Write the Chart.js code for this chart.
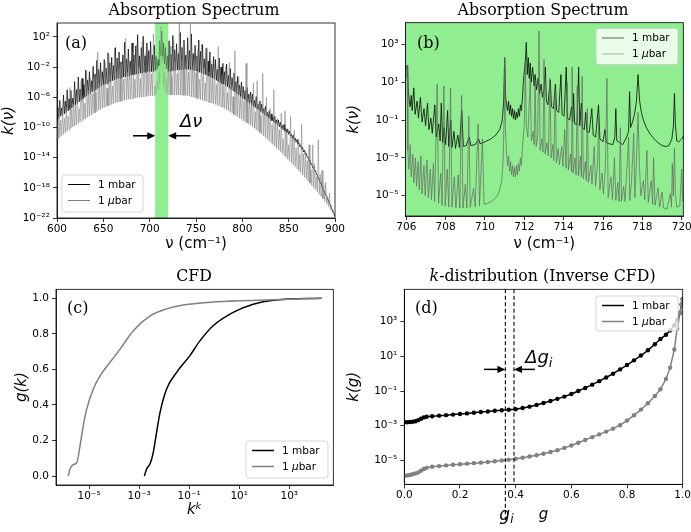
<!DOCTYPE html>
<html>
<head>
<meta charset="utf-8">
<script src="https://cdn.jsdelivr.net/npm/chart.js@4.4.1/dist/chart.umd.min.js"></script>
<style>
html,body{margin:0;padding:0;background:#fff}
body{width:691px;height:532px;position:relative;overflow:hidden}
canvas{position:absolute}
</style>
</head>
<body>
<canvas id="cA" width="345" height="266" style="left:0;top:0;width:345px;height:266px"></canvas>
<canvas id="cB" width="346" height="266" style="left:345px;top:0;width:346px;height:266px"></canvas>
<canvas id="cC" width="345" height="266" style="left:0;top:266px;width:345px;height:266px"></canvas>
<canvas id="cD" width="346" height="266" style="left:345px;top:266px;width:346px;height:266px"></canvas>
<script>
// ================= DATA =================
const seriesLabels = ['1 mbar', '1 μbar'];

// (a) full absorption spectrum: wavenumber (cm^-1) and log10 k
const spectrumNu = [
600,601,602,603,604,605,606,607,608,609,610,611,612,613,614,615,616,617,618,619,
620,621,622,623,624,625,626,627,628,629,630,631,632,633,634,635,636,637,638,639,
640,641,642,643,644,645,646,647,648,649,650,651,652,653,654,655,656,657,658,659,
660,661,662,663,664,665,666,667,668,669,670,671,672,673,674,675,676,677,678,679,
680,681,682,683,684,685,686,687,688,689,690,691,692,693,694,695,696,697,698,699,
700,701,702,703,704,705,706,707,708,709,710,711,712,713,714,715,716,717,718,719,
720,721,722,723,724,725,726,727,728,729,730,731,732,733,734,735,736,737,738,739,
740,741,742,743,744,745,746,747,748,749,750,751,752,753,754,755,756,757,758,759,
760,761,762,763,764,765,766,767,768,769,770,771,772,773,774,775,776,777,778,779,
780,781,782,783,784,785,786,787,788,789,790,791,792,793,794,795,796,797,798,799,
800,801,802,803,804,805,806,807,808,809,810,811,812,813,814,815,816,817,818,819,
820,821,822,823,824,825,826,827,828,829,830,831,832,833,834,835,836,837,838,839,
840,841,842,843,844,845,846,847,848,849,850,851,852,853,854,855,856,857,858,859,
860,861,862,863,864,865,866,867,868,869,870,871,872,873,874,875,876,877,878,879,
880,881,882,883,884,885,886,887,888,889,890,891,892,893,894,895,896,897,898,899,900];
const spectrumMbarLogK = [
-8.9,-7.4,-8.7,-6.4,-8.5,-7.4,-8.4,-5.7,-8.2,-6.5,
-8.0,-5.0,-7.8,-6.2,-7.6,-5.1,-7.4,-6.1,-7.2,-3.9,
-7.0,-5.0,-6.8,-3.3,-6.6,-4.9,-6.4,-3.5,-6.2,-4.3,
-6.0,-2.4,-5.8,-3.7,-5.6,-2.6,-5.5,-3.8,-5.3,-1.9,
-5.1,-2.9,-5.0,-1.1,-4.8,-2.3,-4.7,-1.4,-4.5,-2.6,
-4.4,-1.0,-4.3,-2.1,-4.2,-0.1,-4.0,-1.4,-3.9,-0.7,
-3.8,-1.8,-3.7,0.6,-3.6,-0.8,-3.5,0.0,-3.5,-1.3,
-3.4,-0.4,-3.3,1.3,-3.3,-0.9,-3.2,0.4,-3.2,-1.2,
-3.1,1.2,-3.0,-0.4,-3.0,0.8,-2.9,2.3,-2.9,-0.5,
-2.8,0.6,-2.8,2.1,-2.7,-0.5,-2.7,1.2,-2.6,0.2,
-2.6,1.4,-2.6,-0.4,-2.6,0.9,-2.5,-0.6,-2.3,-1.0,
-1.8,1.5,-0.5,2.8,-0.8,1.2,-1.6,0.6,-2.2,-0.5,
-2.6,1.5,-2.55,-0.3,-2.5,2.2,-2.45,0.3,-2.4,1.1,
-2.4,-0.2,-2.35,2.6,-2.35,0.6,-2.3,1.6,-2.3,-0.4,
-2.3,1.9,-2.3,0.2,-2.35,2.4,-2.4,-0.2,-2.45,0.9,
-2.5,-0.5,-2.6,1.6,-2.7,0.1,-2.8,1.0,-2.9,-0.9,
-3.0,0.5,-3.1,-1.2,-3.2,0.0,-3.35,-1.6,-3.5,-0.6,
-3.6,-1.0,-3.75,-2.3,-3.9,-0.8,-4.0,-2.0,-4.2,-1.5,
-4.3,-2.6,-4.45,-1.6,-4.6,-3.1,-4.8,-2.2,-4.95,-3.4,
-5.1,-2.8,-5.3,-3.9,-5.5,-3.2,-5.7,-4.4,-5.9,-4.0,
-6.1,-4.6,-6.3,-5.1,-6.45,-4.7,-6.65,-5.6,-6.8,-5.3,
-7.0,-5.6,-7.2,-6.4,-7.35,-5.9,-7.55,-6.9,-7.7,-6.5,
-7.9,-6.9,-8.1,-7.5,-8.3,-7.2,-8.5,-8.0,-8.7,-7.8,
-8.9,-8.2,-9.1,-8.6,-9.3,-8.5,-9.5,-9.0,-9.7,-9.0,
-9.9,-9.3,-10.1,-9.7,-10.3,-9.6,-10.5,-10.1,-10.7,-10.2,
-10.9,-10.5,-11.15,-10.9,-11.4,-11.0,-11.7,-11.4,-11.95,-11.6,
-12.2,-12.0,-12.55,-12.3,-12.9,-12.6,-13.25,-13.0,-13.6,-13.4,
-14.0,-13.9,-14.45,-14.3,-14.9,-14.8,-15.35,-15.2,-15.8,-15.7,
-16.3,-16.3,-16.85,-16.8,-17.4,-17.3,-17.9,-17.9,-18.45,-18.5,
-19.0,-19.1,-19.55,-19.6,-20.1,-20.2,-20.7,-20.8,-21.25,-21.4,-21.8];
const spectrumUbarLogK = [
-10.0,-11.5,-7.2,-11.3,-9.0,-11.1,-7.5,-10.9,-8.8,-10.7,
-7.3,-10.5,-8.5,-10.3,-4.7,-10.1,-7.5,-9.9,-6.9,-9.8,
-7.1,-9.65,-4.8,-9.45,-7.5,-9.3,-3.8,-9.1,-5.9,-8.95,
-6.8,-8.85,-2.5,-8.65,-5.1,-8.5,-3.5,-8.35,-5.5,-8.15,
-3.4,-8.05,-5.3,-7.9,0.0,-7.75,-4.2,-7.6,-3.3,-7.45,
-4.2,-7.35,-1.3,-7.25,-4.8,-7.15,-0.3,-7.05,-3.0,-6.95,
-4.5,-6.85,0.5,-6.75,-2.7,-6.65,-1.0,-6.6,-3.4,-6.55,
-1.6,-6.45,-3.6,-6.4,1.8,-6.35,-2.7,-6.3,-1.8,-6.25,
-2.9,-6.2,0.0,-6.15,-3.6,-6.1,0.9,-6.05,-2.0,-6.0,
-3.5,-6.0,1.4,-5.95,-1.8,-5.9,-0.1,-5.85,-2.5,-5.8,
-0.9,-5.8,-2.9,-5.8,2.4,-5.8,-4.5,-5.6,-3.8,-5.0,
-2.5,-4.2,3.4,-1.5,-0.5,-4.5,-2.8,-5.2,-3.5,-5.6,
-2.2,-5.7,0.8,-5.7,-3.1,-5.7,1.7,-5.7,-1.3,-5.7,
-2.9,-5.7,3.8,-5.7,-1.1,-5.75,0.7,-5.75,-2.1,-5.8,
-0.3,-5.8,-2.6,-5.85,3.7,-5.95,-1.8,-6.0,-0.9,-6.05,
-2.7,-6.15,0.3,-6.25,-3.6,-6.3,1.0,-6.4,-2.1,-6.45,
-4.1,-6.55,0.6,-6.65,-2.6,-6.7,-1.1,-6.8,-3.6,-6.85,
-2.2,-6.95,-4.3,-7.05,0.7,-7.15,-3.7,-7.25,-3.0,-7.35,
-4.4,-7.5,-1.9,-7.65,-5.4,-7.8,-1.4,-7.95,-4.3,-8.1,
-5.9,-8.3,0.2,-8.45,-4.7,-8.6,-3.4,-8.75,-5.9,-8.9,
-4.5,-9.1,-6.5,-9.25,-1.5,-9.4,-6.1,-9.55,-5.5,-9.7,
-6.7,-9.9,-4.1,-10.1,-7.9,-10.3,-3.8,-10.5,-6.7,-10.7,
-8.5,-10.9,-2.8,-11.15,-7.4,-11.35,-6.0,-11.55,-8.6,-11.8,
-7.5,-12.0,-9.6,-12.25,-5.0,-12.5,-9.3,-12.75,-8.8,-12.95,
-10.3,-13.2,-8.1,-13.45,-11.5,-13.7,-7.8,-13.95,-10.6,-14.2,
-12.3,-14.45,-8.5,-14.7,-11.4,-14.95,-10.3,-15.2,-12.7,-15.45,
-11.6,-15.75,-13.6,-16.0,-9.6,-16.3,-13.5,-16.6,-13.1,-16.85,
-14.4,-17.15,-12.3,-17.4,-15.6,-17.7,-12.3,-18.0,-14.8,-18.25,
-16.5,-18.55,-11.6,-18.85,-16.2,-19.15,-15.7,-19.45,-17.6,-19.75,
-17.3,-20.1,-19.2,-20.5,-18.7,-20.9,-20.3,-21.3,-21.0,-21.65,-21.8];

// (b) zoom 706-720 cm^-1
const zoomMbarNu = [706.00,706.05,706.10,706.15,706.20,706.25,706.30,706.38,706.45,706.55,706.62,706.72,706.80,706.90,706.98,
707.08,707.15,707.25,707.32,707.45,707.52,707.65,707.72,707.78,707.85,707.92,708.00,708.10,708.16,708.26,708.32,708.42,708.50,
708.62,708.70,708.82,708.90,709.05,709.20,709.28,709.50,709.68,709.75,710.00,710.30,710.55,710.75,710.88,710.95,711.00,711.05,
711.10,711.15,711.20,711.25,711.30,711.35,711.40,711.45,711.50,711.55,711.60,711.65,711.70,711.75,711.80,711.85,711.90,711.95,
712.00,712.05,712.10,712.15,712.20,712.25,712.30,712.35,712.42,712.50,712.55,712.62,712.70,712.78,712.85,712.92,713.00,713.07,
713.12,713.20,713.32,713.38,713.48,713.58,713.64,713.75,713.86,713.92,714.02,714.13,714.19,714.30,714.40,714.46,714.50,714.56,
714.68,714.76,714.82,714.90,714.96,715.05,715.12,715.18,715.30,715.43,715.50,715.62,715.77,715.84,716.00,716.10,716.16,716.30,
716.50,716.60,716.65,716.70,716.85,717.00,717.10,717.20,717.30,717.35,717.40,717.50,717.60,717.70,717.78,717.86,717.95,718.05,
718.20,718.40,718.60,718.80,719.00,719.20,719.35,719.50,719.58,719.63,719.68,719.75,719.85,720.00,720.10];
const zoomMbarLogK = [1.7,1.9,0.6,0.0,-0.3,0.3,-0.5,0.7,-0.7,0.0,-0.9,0.2,-1.1,-0.4,-1.3,
-0.1,-1.5,-0.9,-1.7,-0.2,-1.9,-1.2,-2.1,-0.1,-2.2,-1.4,-2.3,-0.5,-2.4,-1.0,-2.45,-1.6,-2.5,
-1.8,-2.45,-0.5,-2.4,-2.35,-1.9,-2.35,-2.3,-2.0,-2.25,-2.15,-2.0,-1.8,-1.5,-1.0,0.0,2.3,0.2,
-0.2,-0.5,0.0,-0.7,-0.2,-0.8,-0.4,-0.95,-0.5,-1.0,-0.6,-0.9,-0.4,-0.8,-0.2,-0.5,0.1,1.0,
1.6,2.1,3.1,1.4,2.3,1.2,2.0,1.0,1.8,0.8,1.4,0.6,1.2,0.4,0.9,0.2,0.6,1.8,
0.0,-0.2,1.1,-0.3,-0.4,0.9,-0.5,-0.6,1.4,-0.7,-0.8,1.8,-0.9,-1.0,-0.3,-1.1,0.4,-1.2,
-1.25,1.8,-1.3,-0.1,-1.4,-1.5,-0.6,-1.6,-1.65,-0.4,-1.8,-1.9,-0.2,-2.0,-2.15,-1.5,-2.2,-2.25,
-2.3,-1.9,-0.4,-2.1,-2.2,-2.3,-2.1,-1.9,-1.6,0.5,-1.4,-1.1,-0.7,0.0,1.4,0.0,-0.6,-1.0,
-1.4,-1.75,-2.0,-2.2,-2.35,-2.4,-2.35,-2.0,-1.3,0.4,-1.3,-2.1,-2.15,-2.0,-1.8];
const zoomUbarNu = [706.00,706.04,706.08,706.13,706.20,706.25,706.33,706.38,706.46,706.52,706.60,706.66,706.74,706.80,706.90,706.96,
707.05,707.12,707.22,707.28,707.38,707.44,707.57,707.64,707.75,707.82,707.91,707.98,708.08,708.16,708.25,708.32,708.44,708.52,
708.64,708.72,708.81,708.88,709.00,709.08,709.18,709.25,709.42,709.50,709.65,709.72,709.87,709.95,710.15,710.40,710.60,710.75,
710.85,710.92,710.97,711.00,711.04,711.10,711.15,711.20,711.25,711.30,711.35,711.40,711.45,711.50,711.55,711.60,711.65,711.70,
711.75,711.80,711.85,711.90,711.95,712.00,712.05,712.10,712.18,712.30,712.36,712.45,712.50,712.55,712.60,712.68,712.75,712.80,
712.90,712.95,713.00,713.06,713.15,713.22,713.30,713.36,713.45,713.50,713.57,713.63,713.72,713.78,713.90,713.96,714.05,714.12,
714.18,714.24,714.35,714.40,714.43,714.48,714.58,714.63,714.69,714.75,714.85,714.90,714.94,715.00,715.10,715.15,715.20,715.26,
715.38,715.44,715.55,715.62,715.72,715.78,715.84,715.95,716.02,716.12,716.20,716.26,716.40,716.48,716.58,716.65,716.75,716.82,
716.88,716.94,717.05,717.12,717.30,717.36,717.45,717.56,717.62,717.70,717.78,717.85,717.92,718.05,718.12,718.23,718.30,718.45,
718.52,718.57,718.64,718.80,718.88,719.00,719.08,719.25,719.42,719.48,719.52,719.57,719.63,719.68,719.75,719.90,720.00,720.05,720.10];
const zoomUbarLogK = [1.2,1.9,-2.6,-3.6,-2.3,-4.0,-2.8,-4.3,-3.0,-4.5,-3.2,-4.7,-2.9,-4.9,-3.4,-5.0,
-3.1,-5.1,-3.6,-5.2,-3.3,-5.3,0.9,-5.4,-3.8,-5.5,0.8,-5.55,-3.6,-5.6,0.7,-5.6,-4.0,-5.65,
-3.9,-5.65,0.3,-5.65,-4.4,-5.65,-0.8,-5.6,-4.6,-5.6,-1.2,-5.55,-2.0,-5.45,-5.4,-5.25,-5.05,-4.7,
-4.2,-3.2,-1.0,2.3,-1.5,-2.9,-3.4,-2.9,-3.7,-3.2,-3.9,-3.4,-4.0,-3.5,-4.0,-3.4,-3.9,-3.3,
-3.7,-3.0,-3.4,-2.6,-1.8,-1.2,2.0,-1.3,-1.9,1.2,-2.1,-1.6,-2.3,1.1,-2.4,-1.8,3.7,-2.6,
-2.0,-2.7,2.2,-2.8,-2.2,-2.9,1.2,-3.0,-2.3,-3.15,0.6,-3.25,-2.5,-3.35,-2.4,-3.45,-1.5,-3.55,
1.0,-3.65,-2.8,-3.75,1.8,-3.8,-3.0,-3.9,0.8,-3.95,-2.9,-4.0,1.3,-4.1,-3.2,-4.2,-0.4,-4.3,
-3.4,-4.4,-2.4,-4.5,-3.3,-0.9,-4.7,-3.8,-4.9,-3.5,1.2,-5.1,-4.0,-5.2,-3.0,-5.25,-4.3,-5.3,
-1.4,-5.3,-4.5,-5.3,-1.9,-5.25,-4.2,-1.7,-5.1,-3.2,-0.6,-3.4,-5.0,-4.2,-5.2,-2.6,-5.35,-4.2,
-5.45,-3.0,-5.5,-4.6,-5.6,-4.8,-5.65,-5.7,-4.9,-5.6,-3.3,-5.0,-2.5,-5.0,-5.6,-5.55,-3.6,-5.3,-5.2];

// (c) cumulative distribution g(k): log10 k and g
const cfdMbarLogK = [-2.79,-2.70,-2.56,-2.43,-2.30,-2.16,-1.90,-1.50,-0.97,-0.57,-0.04,0.76,1.56,2.49,4.29];
const cfdMbarG    = [0,0.04,0.07,0.135,0.247,0.36,0.49,0.583,0.677,0.76,0.845,0.92,0.966,0.99,1.0];
const cfdUbarLogK = [-5.83,-5.76,-5.64,-5.49,-5.36,-5.23,-5.09,-4.83,-4.56,-4.16,-3.76,-3.23,-2.56,-1.9,-1.24,0.1,2.1,4.29];
const cfdUbarG    = [0,0.04,0.064,0.075,0.17,0.284,0.378,0.49,0.564,0.64,0.714,0.817,0.90,0.94,0.962,0.98,0.99,1.0];

// (d) k-distribution k(g): g and log10 k
const kdistG = [0,0.01,0.02,0.03,0.04,0.05,0.06,0.07,0.08,0.1,0.125,0.15,0.175,0.2,0.225,0.25,0.275,0.3,0.325,0.35,
0.375,0.4,0.425,0.45,0.475,0.5,0.525,0.55,0.575,0.6,0.625,0.65,0.675,0.7,0.725,0.75,0.775,0.8,0.825,0.85,
0.875,0.9,0.92,0.94,0.955,0.97,0.98,0.99,0.996,1.0];
const kdistMbarLogK = [-2.80,-2.80,-2.79,-2.77,-2.74,-2.68,-2.60,-2.52,-2.48,-2.45,-2.42,-2.39,-2.36,-2.32,-2.29,-2.25,-2.21,-2.18,-2.14,-2.11,
-2.08,-2.05,-1.98,-1.90,-1.80,-1.69,-1.57,-1.45,-1.32,-1.17,-1.00,-0.82,-0.63,-0.43,-0.22,0.00,0.25,0.50,0.77,1.05,
1.35,1.70,2.00,2.25,2.50,2.80,3.10,3.50,4.00,4.30];
const kdistUbarLogK = [-5.88,-5.87,-5.84,-5.80,-5.75,-5.70,-5.60,-5.50,-5.43,-5.37,-5.33,-5.29,-5.25,-5.22,-5.19,-5.16,-5.13,-5.09,-5.05,-5.01,
-4.96,-4.91,-4.85,-4.78,-4.70,-4.62,-4.52,-4.41,-4.28,-4.14,-3.98,-3.82,-3.66,-3.50,-3.34,-3.17,-2.97,-2.70,-2.40,-2.07,
-1.70,-1.29,-0.90,-0.30,0.35,1.40,2.60,3.50,4.00,4.30];

// tick values
const spectrumNuTicks = [600,650,700,750,800,850,900];
const spectrumKTickExp = [2,-2,-6,-10,-14,-18,-22];
const zoomNuTicks = [706,708,710,712,714,716,718,720];
const zoomKTickExp = [3,1,-1,-3,-5];
const cfdKTickExp = [-5,-3,-1,1,3];
const cfdGTicks = [0,0.2,0.4,0.6,0.8,1.0];
const kdistGTicks = [0,0.2,0.4,0.6,0.8,1.0];
const kdistKTickExp = [3,1,-1,-3,-5];

// annotation anchors (data coordinates)
const bandNu = [706, 720];
const giMarks = [0.363, 0.394];

// ================= HELPERS =================
const pow10 = e => Math.pow(10, e);
const ptsLogY = (xs, ls) => xs.map((x, i) => ({x: x, y: pow10(ls[i])}));
const ptsLogX = (ls, ys) => ls.map((l, i) => ({x: pow10(l), y: ys[i]}));
const SUP = {'0':'⁰','1':'¹','2':'²','3':'³','4':'⁴','5':'⁵','6':'⁶','7':'⁷','8':'⁸','9':'⁹','-':'⁻'};
const logLabel = v => '10' + String(Math.round(Math.log10(v))).split('').map(c => SUP[c]).join('');
const fixed1 = v => Number(v).toFixed(1);
const TICK_FONT = {family: 'DejaVu Sans', size: 10.5};
const SERIF = '"DejaVu Serif"';
const SANS = '"DejaVu Sans"';

function scale(o) {
  const vertical = o.axis === 'y';
  return {
    type: o.type, position: vertical ? 'left' : 'bottom',
    min: o.min, max: o.max, bounds: 'data',
    afterDataLimits: s => { s.min = o.min; s.max = o.max; },
    afterBuildTicks: s => { s.ticks = o.ticks.map(v => ({value: v})); },
    afterFit: s => {
      if (vertical) { s.width = o.size; s.paddingTop = 0; s.paddingBottom = 0; }
      else { s.height = o.size; s.paddingLeft = 0; s.paddingRight = 0; }
    },
    ticks: {autoSkip: false, maxRotation: 0, minRotation: 0, padding: vertical ? 3 : 1,
            color: '#000', font: TICK_FONT, callback: o.label},
    grid: {display: true, drawOnChartArea: false, drawTicks: true, tickLength: 4,
           tickWidth: 0.8, tickColor: '#000', color: '#000', lineWidth: 0.8},
    border: {display: true, color: '#000', width: 0.8},
    title: {display: true, text: o.title, color: '#000',
            font: {family: 'DejaVu Sans', size: 15, style: o.titleStyle || 'normal'},
            padding: o.titlePad}
  };
}

let titleSize = null;
function getTitleSize(ctx) {
  if (!titleSize) {
    ctx.save(); ctx.font = '100px ' + SERIF;
    titleSize = 100 * 171 / ctx.measureText('Absorption Spectrum').width;
    ctx.restore();
  }
  return titleSize;
}

function drawRuns(ctx, runs, x, y, align) {
  let total = 0;
  runs.forEach(r => { ctx.font = r.font; r.w = ctx.measureText(r.t).width; total += r.w; });
  let cx = align === 'center' ? x - total / 2 : (align === 'right' ? x - total : x);
  ctx.textAlign = 'left';
  runs.forEach(r => { ctx.font = r.font; ctx.fillText(r.t, cx, y + (r.dy || 0)); cx += r.w; });
}

function roundRectPath(ctx, x, y, w, h, r) {
  ctx.beginPath();
  ctx.moveTo(x + r, y); ctx.lineTo(x + w - r, y); ctx.quadraticCurveTo(x + w, y, x + w, y + r);
  ctx.lineTo(x + w, y + h - r); ctx.quadraticCurveTo(x + w, y + h, x + w - r, y + h);
  ctx.lineTo(x + r, y + h); ctx.quadraticCurveTo(x, y + h, x, y + h - r);
  ctx.lineTo(x, y + r); ctx.quadraticCurveTo(x, y, x + r, y); ctx.closePath();
}

function labelRuns(label, size) {
  const parts = label.split('μ');
  if (parts.length === 1) return [{t: label, font: size + 'px ' + SANS}];
  return [{t: parts[0], font: size + 'px ' + SANS}, {t: 'μ', font: 'italic ' + size + 'px ' + SANS},
          {t: parts[1], font: size + 'px ' + SANS}];
}

function drawLegend(ctx, box, items) {
  ctx.save();
  roundRectPath(ctx, box.x, box.y, box.w, box.h, 3);
  ctx.fillStyle = 'rgba(255,255,255,0.8)'; ctx.fill();
  ctx.strokeStyle = 'rgba(204,204,204,0.8)'; ctx.lineWidth = 1; ctx.stroke();
  items.forEach((it, i) => {
    const cy = box.y + 9.5 + 16 * i;
    ctx.strokeStyle = it.color; ctx.lineWidth = it.width;
    ctx.beginPath(); ctx.moveTo(box.x + 6, cy); ctx.lineTo(box.x + 28, cy); ctx.stroke();
    ctx.fillStyle = '#000'; ctx.textBaseline = 'middle';
    drawRuns(ctx, labelRuns(it.label, 10.5), box.x + 36, cy + 0.5, 'left');
  });
  ctx.restore();
}

function arrowH(ctx, xFrom, xTo, y) {
  const dir = xTo > xFrom ? 1 : -1;
  ctx.beginPath(); ctx.moveTo(xFrom, y); ctx.lineTo(xTo - dir * 6, y); ctx.stroke();
  ctx.beginPath(); ctx.moveTo(xTo, y); ctx.lineTo(xTo - dir * 8, y - 3.6); ctx.lineTo(xTo - dir * 8, y + 3.6);
  ctx.closePath(); ctx.fill();
}

function decoPlugin(o) {
  return {
    id: 'deco' + o.key,
    beforeDatasetsDraw(chart) {
      if (o.under) { chart.ctx.save(); o.under(chart); chart.ctx.restore(); }
    },
    afterDatasetsDraw(chart) {
      if (o.over) { chart.ctx.save(); o.over(chart); chart.ctx.restore(); }
    },
    afterDraw(chart) {
      const {ctx, chartArea: a} = chart;
      ctx.save();
      ctx.strokeStyle = '#000'; ctx.lineWidth = 0.8;
      ctx.strokeRect(a.left, a.top, a.right - a.left, a.bottom - a.top);
      ctx.fillStyle = '#000'; ctx.textBaseline = 'alphabetic';
      const ts = getTitleSize(ctx);
      drawRuns(ctx, o.title.map(r => ({t: r.t, font: (r.italic ? 'italic ' : '') + ts.toFixed(2) + 'px ' + SERIF})),
               o.titleX, 14.5, 'center');
      ctx.font = '16px ' + SERIF; ctx.textAlign = 'left';
      ctx.fillText(o.panel, o.panelX, o.panelY);
      if (o.extra) o.extra(chart);
      ctx.restore();
      if (o.legend) drawLegend(ctx, o.legend.box, o.legend.items);
    }
  };
}

function baseOptions(pad, xs, ys) {
  return {
    responsive: false, animation: false, events: [],
    layout: {padding: pad},
    plugins: {legend: {display: false}, tooltip: {enabled: false}, title: {display: false}},
    scales: {x: xs, y: ys},
    elements: {line: {tension: 0}, point: {radius: 0}}
  };
}

// ================= (a) =================
new Chart(document.getElementById('cA'), {
  type: 'line',
  data: {datasets: [
    {label: seriesLabels[0], data: ptsLogY(spectrumNu, spectrumMbarLogK), borderColor: '#000', borderWidth: 0.7, pointRadius: 0, order: 2},
    {label: seriesLabels[1], data: ptsLogY(spectrumNu, spectrumUbarLogK), borderColor: 'rgba(128,128,128,0.8)', borderWidth: 0.7, pointRadius: 0, order: 1}
  ]},
  options: baseOptions({top: 23, right: 10, left: 0, bottom: 0},
    scale({axis: 'x', type: 'linear', min: 600, max: 900, ticks: spectrumNuTicks, label: v => String(v),
           title: 'ν (cm⁻¹)', titlePad: {top: 0, bottom: 13}, size: 48}),
    scale({axis: 'y', type: 'logarithmic', min: pow10(-22), max: pow10(3.85), ticks: spectrumKTickExp.map(pow10), label: logLabel,
           title: 'k(ν)', titleStyle: 'italic', titlePad: {top: 0, bottom: 0}, size: 57})),
  plugins: [decoPlugin({
    key: 'A', title: [{t: 'Absorption Spectrum'}], titleX: 194, panel: '(a)', panelX: 65, panelY: 47.5,
    under(chart) {
      const {ctx, chartArea: a, scales: {x}} = chart;
      const x1 = x.getPixelForValue(bandNu[0]), x2 = x.getPixelForValue(bandNu[1]);
      ctx.fillStyle = '#90ee90'; ctx.fillRect(x1, a.top, x2 - x1, a.bottom - a.top);
    },
    over(chart) {
      const {ctx, chartArea: a, scales: {x, y}} = chart;
      const x1 = x.getPixelForValue(bandNu[0]), x2 = x.getPixelForValue(bandNu[1]);
      ctx.fillStyle = 'rgba(144,238,144,0.45)';
      ctx.fillRect(x1, a.top, x2 - x1, a.bottom - a.top);
      const ay = y.getPixelForValue(pow10(-11.1));
      ctx.strokeStyle = '#000'; ctx.fillStyle = '#000'; ctx.lineWidth = 1.5;
      arrowH(ctx, x.getPixelForValue(682), x1, ay);
      arrowH(ctx, x.getPixelForValue(744), x2, ay);
      ctx.textBaseline = 'alphabetic';
      drawRuns(ctx, [{t: 'Δν', font: 'italic 18px ' + SANS}], x.getPixelForValue(732.7), y.getPixelForValue(pow10(-9.9)), 'left');
    },
    legend: {box: {x: 62, y: 175, w: 81, h: 37}, items: [
      {label: seriesLabels[0], color: '#000', width: 1},
      {label: seriesLabels[1], color: '#808080', width: 1}]}
  })]
});

// ================= (b) =================
new Chart(document.getElementById('cB'), {
  type: 'line',
  data: {datasets: [
    {label: seriesLabels[0], data: ptsLogY(zoomMbarNu, zoomMbarLogK), borderColor: 'rgba(0,0,0,0.85)', borderWidth: 0.9, pointRadius: 0, order: 2},
    {label: seriesLabels[1], data: ptsLogY(zoomUbarNu, zoomUbarLogK), borderColor: 'rgba(105,105,105,0.8)', borderWidth: 0.9, pointRadius: 0, order: 1}
  ]},
  options: baseOptions({top: 22.7, right: 7.7, left: 0, bottom: 0},
    scale({axis: 'x', type: 'linear', min: 705.96, max: 720.08, ticks: zoomNuTicks, label: v => String(v),
           title: 'ν (cm⁻¹)', titlePad: {top: 0, bottom: 13}, size: 50}),
    scale({axis: 'y', type: 'logarithmic', min: pow10(-6.07), max: pow10(4.14), ticks: zoomKTickExp.map(pow10), label: logLabel,
           title: 'k(ν)', titleStyle: 'italic', titlePad: {top: 0, bottom: 0}, size: 60.5})),
  plugins: [decoPlugin({
    key: 'B', title: [{t: 'Absorption Spectrum'}], titleX: 198, panel: '(b)', panelX: 72, panelY: 47.5,
    under(chart) {
      const {ctx, chartArea: a} = chart;
      ctx.fillStyle = '#90ee90'; ctx.fillRect(a.left, a.top, a.right - a.left, a.bottom - a.top);
    },
    legend: {box: {x: 251, y: 28.5, w: 82, h: 36}, items: [
      {label: seriesLabels[0], color: 'rgba(0,0,0,0.5)', width: 1.2},
      {label: seriesLabels[1], color: 'rgba(128,128,128,0.5)', width: 1.2}]}
  })]
});

// ================= (c) =================
new Chart(document.getElementById('cC'), {
  type: 'line',
  data: {datasets: [
    {label: seriesLabels[0], data: ptsLogX(cfdMbarLogK, cfdMbarG), borderColor: '#000', borderWidth: 1.5, pointRadius: 0, order: 2,
     cubicInterpolationMode: 'monotone'},
    {label: seriesLabels[1], data: ptsLogX(cfdUbarLogK, cfdUbarG), borderColor: '#808080', borderWidth: 1.5, pointRadius: 0, order: 1,
     cubicInterpolationMode: 'monotone'}
  ]},
  options: baseOptions({top: 23.3, right: 11.7, left: 0, bottom: 0},
    scale({axis: 'x', type: 'logarithmic', min: pow10(-6.32), max: pow10(4.76), ticks: cfdKTickExp.map(pow10), label: logLabel,
           title: 'kᵏ', titleStyle: 'italic', titlePad: {top: 0, bottom: 12.6}, size: 47}),
    scale({axis: 'y', type: 'linear', min: -0.05, max: 1.05, ticks: cfdGTicks, label: fixed1,
           title: 'g(k)', titleStyle: 'italic', titlePad: {top: 13, bottom: 0}, size: 56})),
  plugins: [decoPlugin({
    key: 'C', title: [{t: 'CFD'}], titleX: 194, panel: '(c)', panelX: 67, panelY: 47,
    legend: {box: {x: 246, y: 175, w: 82, h: 37}, items: [
      {label: seriesLabels[0], color: '#000', width: 1.5},
      {label: seriesLabels[1], color: '#808080', width: 1.5}]}
  })]
});

// ================= (d) =================
new Chart(document.getElementById('cD'), {
  type: 'line',
  data: {datasets: [
    {label: seriesLabels[0], data: ptsLogY(kdistG, kdistMbarLogK), borderColor: '#000', backgroundColor: '#000', borderWidth: 1.5,
     pointRadius: 2.2, pointBorderWidth: 0, pointBackgroundColor: '#000', order: 2},
    {label: seriesLabels[1], data: ptsLogY(kdistG, kdistUbarLogK), borderColor: '#808080', backgroundColor: '#808080', borderWidth: 1.5,
     pointRadius: 2.2, pointBorderWidth: 0, pointBackgroundColor: '#808080', order: 1}
  ]},
  options: baseOptions({top: 23.3, right: 8.3, left: 0, bottom: 0},
    scale({axis: 'x', type: 'linear', min: 0, max: 1, ticks: kdistGTicks, label: fixed1,
           title: 'g', titleStyle: 'italic', titlePad: {top: 0, bottom: 8}, size: 47.7}),
    scale({axis: 'y', type: 'logarithmic', min: pow10(-6.38), max: pow10(4.87), ticks: kdistKTickExp.map(pow10), label: logLabel,
           title: 'k(g)', titleStyle: 'italic', titlePad: {top: 0, bottom: 0}, size: 59.3})),
  plugins: [decoPlugin({
    key: 'D', title: [{t: 'k', italic: true}, {t: '-distribution (Inverse CFD)'}], titleX: 197.6, panel: '(d)', panelX: 70, panelY: 47,
    over(chart) {
      const {ctx, chartArea: a, scales: {x, y}} = chart;
      ctx.strokeStyle = '#000'; ctx.lineWidth = 1.1; ctx.setLineDash([4, 2.5]);
      giMarks.forEach((g, i) => {
        const px = x.getPixelForValue(g);
        ctx.beginPath(); ctx.moveTo(px, a.top); ctx.lineTo(px, i === 0 ? a.bottom + 36 : a.bottom); ctx.stroke();
      });
      ctx.setLineDash([]);
      const ay = y.getPixelForValue(pow10(0.25));
      ctx.fillStyle = '#000'; ctx.lineWidth = 1.5;
      arrowH(ctx, x.getPixelForValue(0.286), x.getPixelForValue(giMarks[0]), ay);
      arrowH(ctx, x.getPixelForValue(0.469), x.getPixelForValue(giMarks[1]), ay);
      ctx.textBaseline = 'alphabetic';
      drawRuns(ctx, [{t: 'Δg', font: 'italic 18px ' + SANS}, {t: 'i', font: 'italic 13px ' + SANS, dy: 4}],
               x.getPixelForValue(0.434), y.getPixelForValue(pow10(0.63)), 'left');
    },
    extra(chart) {
      const {ctx, scales: {x}} = chart;
      const px = x.getPixelForValue(giMarks[0]);
      ctx.textBaseline = 'alphabetic';
      drawRuns(ctx, [{t: 'g', font: 'italic 17px ' + SANS}, {t: 'i', font: 'italic 12px ' + SANS, dy: 3}], px - 6, 254, 'left');
    },
    legend: {box: {x: 251, y: 30, w: 82, h: 35}, items: [
      {label: seriesLabels[0], color: '#000', width: 1.5},
      {label: seriesLabels[1], color: '#808080', width: 1.5}]}
  })]
});
</script>
</body>
</html>
